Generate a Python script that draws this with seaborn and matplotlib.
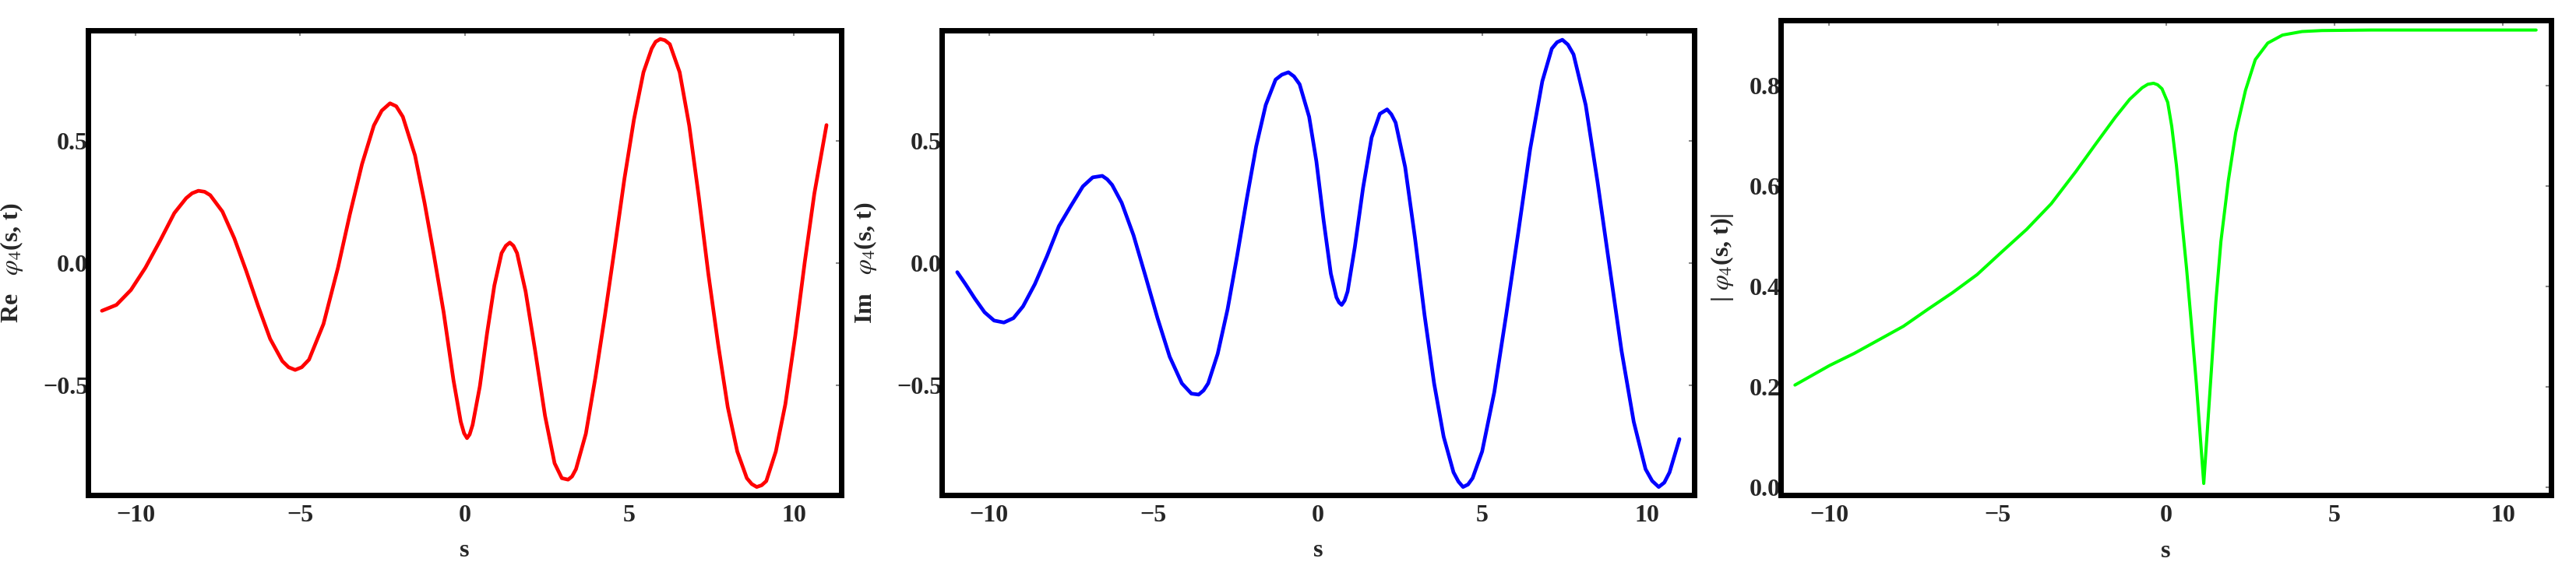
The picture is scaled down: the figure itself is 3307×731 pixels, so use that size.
import matplotlib
matplotlib.use("Agg")
import matplotlib.pyplot as plt
from matplotlib.ticker import FuncFormatter
import seaborn as sns

sns.set_theme(style="white")
plt.rcParams["font.family"] = ["Liberation Serif", "DejaVu Serif"]
plt.rcParams["mathtext.fontset"] = "stix"

# Re phi_4(s, t)
s_re = [-11.02, -10.58, -10.14, -9.70, -9.26, -8.82, -8.46, -8.28, -8.09, -7.90,
        -7.73, -7.36, -7.00, -6.64, -6.27, -5.91, -5.54, -5.35, -5.15, -4.95,
        -4.73, -4.29, -3.85, -3.49, -3.12, -2.76, -2.52, -2.27, -2.08, -1.88,
        -1.51, -1.22, -0.93, -0.64, -0.34, -0.12, -0.02, 0.07, 0.15, 0.24,
        0.46, 0.68, 0.90, 1.12, 1.25, 1.37, 1.48, 1.59, 1.85, 2.14,
        2.44, 2.73, 2.95, 3.14, 3.26, 3.38, 3.68, 3.97, 4.26, 4.56,
        4.85, 5.14, 5.43, 5.68, 5.80, 5.94, 6.08, 6.23, 6.53, 6.82,
        7.11, 7.40, 7.70, 7.99, 8.28, 8.57, 8.72, 8.87, 9.02, 9.16,
        9.45, 9.74, 10.04, 10.33, 10.62, 10.99]
re_vals = [-0.194, -0.170, -0.109, -0.018, 0.091, 0.206, 0.267, 0.287, 0.297, 0.293,
           0.279, 0.212, 0.103, -0.030, -0.176, -0.309, -0.400, -0.425, -0.436, -0.425,
           -0.394, -0.248, -0.018, 0.200, 0.406, 0.564, 0.625, 0.655, 0.643, 0.600,
           0.442, 0.248, 0.030, -0.200, -0.479, -0.648, -0.695, -0.715, -0.700, -0.661,
           -0.503, -0.285, -0.091, 0.042, 0.072, 0.085, 0.072, 0.042, -0.115, -0.358,
           -0.624, -0.818, -0.879, -0.885, -0.872, -0.842, -0.697, -0.467, -0.212, 0.067,
           0.345, 0.588, 0.782, 0.879, 0.907, 0.918, 0.913, 0.897, 0.782, 0.564,
           0.273, -0.042, -0.333, -0.588, -0.770, -0.879, -0.903, -0.915, -0.908, -0.891,
           -0.770, -0.576, -0.297, 0.006, 0.285, 0.566]

# Im phi_4(s, t)
s_im = [-10.97, -10.72, -10.43, -10.14, -9.85, -9.55, -9.26, -8.97, -8.61, -8.24,
        -7.88, -7.51, -7.15, -6.85, -6.56, -6.41, -6.26, -5.97, -5.61, -5.24,
        -4.88, -4.51, -4.14, -3.85, -3.63, -3.48, -3.34, -3.05, -2.75, -2.46,
        -2.17, -1.88, -1.59, -1.29, -1.10, -0.90, -0.73, -0.56, -0.27, -0.05,
        0.17, 0.39, 0.56, 0.64, 0.72, 0.81, 0.90, 1.12, 1.37, 1.63,
        1.88, 2.10, 2.23, 2.36, 2.65, 2.95, 3.24, 3.53, 3.82, 4.12,
        4.27, 4.41, 4.56, 4.70, 4.99, 5.36, 5.72, 6.09, 6.45, 6.82,
        7.11, 7.27, 7.43, 7.60, 7.77, 8.14, 8.50, 8.87, 9.23, 9.60,
        9.96, 10.16, 10.36, 10.53, 10.69, 10.99]
im_vals = [-0.036, -0.085, -0.145, -0.200, -0.234, -0.242, -0.224, -0.176, -0.085, 0.030,
           0.152, 0.236, 0.315, 0.352, 0.358, 0.344, 0.321, 0.248, 0.115, -0.055,
           -0.224, -0.382, -0.491, -0.533, -0.537, -0.520, -0.491, -0.370, -0.188, 0.030,
           0.261, 0.479, 0.648, 0.752, 0.772, 0.782, 0.765, 0.733, 0.600, 0.418,
           0.176, -0.042, -0.139, -0.160, -0.170, -0.152, -0.115, 0.067, 0.309, 0.515,
           0.612, 0.630, 0.610, 0.576, 0.394, 0.103, -0.212, -0.491, -0.709, -0.855,
           -0.893, -0.915, -0.905, -0.879, -0.770, -0.527, -0.212, 0.127, 0.467, 0.745,
           0.879, 0.905, 0.915, 0.895, 0.855, 0.648, 0.333, -0.018, -0.358, -0.648,
           -0.842, -0.890, -0.915, -0.897, -0.855, -0.719]

# |phi_4(s, t)|
s_abs = [-11.02, -9.99, -9.26, -8.53, -7.80, -7.07, -6.34, -5.61, -4.88, -4.14,
         -3.41, -2.68, -2.10, -1.51, -1.08, -0.71, -0.54, -0.37, -0.25, -0.12,
         0.05, 0.17, 0.31, 0.46, 0.61, 0.75, 0.90, 1.00, 1.12, 1.23,
         1.35, 1.48, 1.63, 1.85, 2.07, 2.36, 2.65, 3.02, 3.46, 4.04,
         4.63, 6.09, 7.55, 9.01, 10.99]
abs_vals = [0.203, 0.242, 0.266, 0.293, 0.320, 0.354, 0.387, 0.423, 0.468, 0.513,
            0.564, 0.628, 0.682, 0.736, 0.772, 0.795, 0.802, 0.804, 0.801, 0.793,
            0.766, 0.718, 0.640, 0.537, 0.435, 0.327, 0.206, 0.116, 0.007, 0.116,
            0.236, 0.369, 0.489, 0.610, 0.706, 0.790, 0.851, 0.884, 0.900, 0.907,
            0.909, 0.910, 0.910, 0.910, 0.910]

x_ticks = [-10, -5, 0, 5, 10]

panels = [
    # x, y, colour, line width, y label, axes rect, y limits, y ticks, ylabel x
    (s_re, re_vals, "#ff0000", 3.4, r"Re   $\varphi_4$(s, t)",
     [0.0342, 0.130, 0.2924, 0.816], (-0.948, 0.952), [-0.5, 0.0, 0.5], -0.084),
    (s_im, im_vals, "#0000ff", 3.4, r"Im   $\varphi_4$(s, t)",
     [0.3656, 0.130, 0.2921, 0.816], (-0.948, 0.952), [-0.5, 0.0, 0.5], -0.084),
    (s_abs, abs_vals, "#00ff00", 2.9, r"| $\varphi_4$(s, t)|",
     [0.6913, 0.130, 0.2991, 0.834], (-0.016, 0.929), [0.0, 0.2, 0.4, 0.6, 0.8], -0.059),
]

one_decimal = FuncFormatter(lambda v, pos: f"{v:.1f}".replace("-", "\u2212"))

fig = plt.figure(figsize=(33.07, 7.31), dpi=100)

for xs, ys, color, lw, ylab, rect, ylim, yticks, ylab_x in panels:
    ax = fig.add_axes(rect)
    sns.lineplot(x=xs, y=ys, ax=ax, color=color, linewidth=lw)
    ax.set_xlim(-11.44, 11.44)
    ax.set_ylim(*ylim)
    ax.set_xticks(x_ticks)
    ax.set_yticks(yticks)
    ax.yaxis.set_major_formatter(one_decimal)
    for sp in ax.spines.values():
        sp.set_visible(True)
        sp.set_color("black")
        sp.set_linewidth(5)
    ax.tick_params(axis="both", direction="in", length=5, width=1.5,
                   color="#888888", top=True, right=True, labelsize=23)
    ax.tick_params(axis="x", pad=9)
    ax.tick_params(axis="y", pad=0)
    for lab in ax.get_xticklabels() + ax.get_yticklabels():
        lab.set_fontweight("bold")
    ax.set_xlabel("s", fontsize=23, fontweight="bold", va="top")
    ax.xaxis.set_label_coords(0.5, -0.095)
    ax.set_ylabel(ylab, fontsize=23, fontweight="bold")
    ax.yaxis.set_label_coords(ylab_x, 0.5)
    ax.grid(False)

fig.savefig("out.png", dpi=100, facecolor="white")
